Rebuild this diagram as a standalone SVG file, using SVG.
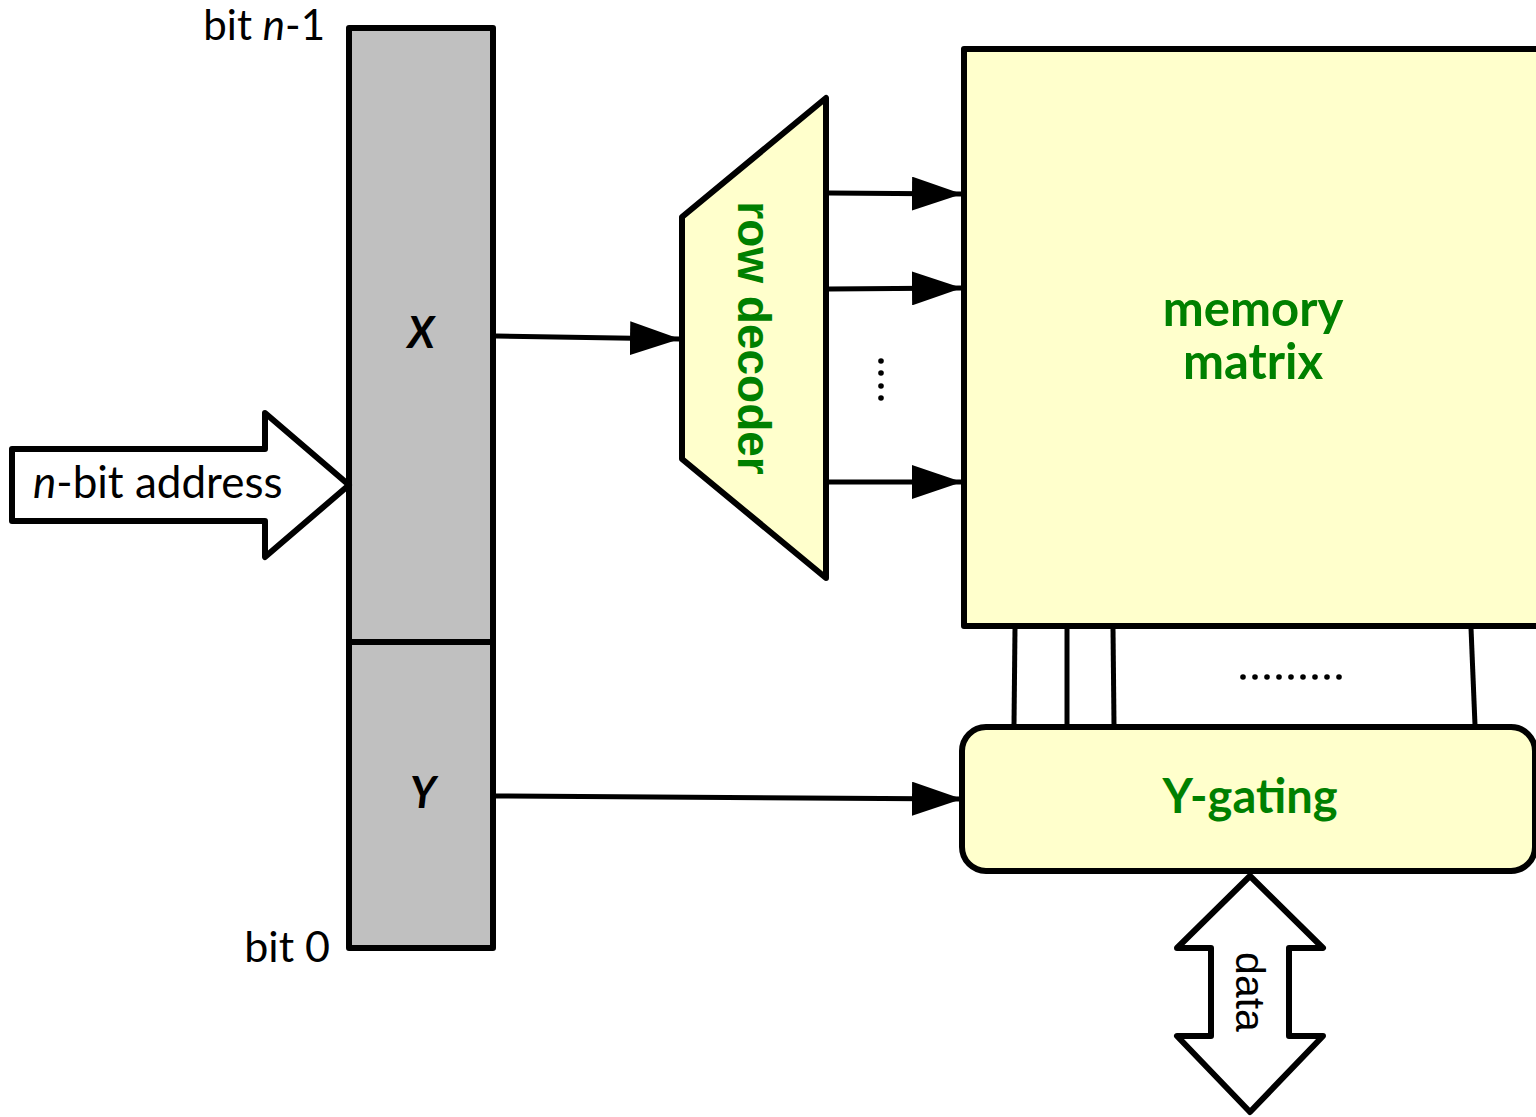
<svg xmlns="http://www.w3.org/2000/svg" width="1536" height="1117" viewBox="0 0 1536 1117">
<style>
.s{stroke:#000;stroke-width:6;stroke-linejoin:round}
.reg{fill:#c0c0c0}
.yel{fill:#ffffcc}
.blk{font-family:"Lato","Open Sans",sans-serif;fill:#000}
.grn{font-family:"Lato","Open Sans",sans-serif;font-weight:bold;fill:#008000}
.ln{stroke:#000;stroke-width:5;fill:none}
</style>
<defs>
<marker id="ah" markerUnits="userSpaceOnUse" markerWidth="52" markerHeight="34" refX="50" refY="17" orient="auto">
<path d="M0,0 L50,17 L0,34 Z" fill="#000"/>
</marker>
</defs>
<g id="address-register">
<rect class="s reg" x="349" y="28" width="144" height="614"/>
<rect class="s reg" x="349" y="642" width="144" height="306"/>
<text class="blk" x="421" y="348" font-size="43" font-weight="bold" font-style="italic" text-anchor="middle">X</text>
<text class="blk" x="423" y="808" font-size="43" font-weight="bold" font-style="italic" text-anchor="middle">Y</text>
</g>
<g id="label-bit-n1"><text class="blk" x="325" y="40" font-size="42" text-anchor="end">bit <tspan font-style="italic">n</tspan>-1</text></g>
<g id="label-bit-0"><text class="blk" x="330" y="962" font-size="43" text-anchor="end">bit 0</text></g>
<g id="address-arrow">
<polygon class="s" fill="#fff" points="12,449 265,449 265,413 349,485 265,557 265,521 12,521"/>
<text class="blk" x="33" y="498" font-size="44"><tspan font-style="italic">n</tspan>-bit address</text>
</g>
<g id="row-decoder">
<polygon class="s yel" points="682,217 826,98 826,578 682,459"/>
<text class="grn" transform="translate(738,338) rotate(90)" font-size="46" text-anchor="middle" style="font-family:'Liberation Sans',Arial,sans-serif">row decoder</text>
</g>
<g id="memory-matrix">
<rect class="s yel" x="964" y="49" width="580" height="577"/>
<text class="grn" x="1253" y="326" font-size="49" text-anchor="middle">memory</text>
<text class="grn" x="1253" y="379" font-size="49" text-anchor="middle">matrix</text>
</g>
<g id="y-gating">
<rect class="s yel" x="962" y="727" width="573" height="144" rx="24"/>
<text class="grn" x="1250" y="813" font-size="47" text-anchor="middle">Y-gating</text>
</g>
<g id="data-arrow">
<polygon class="s" fill="#fff" points="1250,876 1323,948 1289,948 1289,1036 1323,1036 1250,1112 1177,1036 1211,1036 1211,948 1177,948"/>
<text transform="translate(1236,992) rotate(90)" font-size="41" text-anchor="middle" style="font-family:'Liberation Sans',Arial,sans-serif" fill="#000">data</text>
</g>
<g id="connectors">
<line class="ln" x1="496" y1="336" x2="680" y2="339" marker-end="url(#ah)"/>
<line class="ln" x1="496" y1="796" x2="962" y2="799" marker-end="url(#ah)"/>
<line class="ln" x1="829" y1="193" x2="962" y2="194" marker-end="url(#ah)"/>
<line class="ln" x1="829" y1="289" x2="962" y2="288" marker-end="url(#ah)"/>
<line class="ln" x1="829" y1="482" x2="962" y2="482" marker-end="url(#ah)"/>
<line class="ln" x1="1015" y1="628" x2="1014" y2="725"/>
<line class="ln" x1="1067" y1="628" x2="1067" y2="725"/>
<line class="ln" x1="1113" y1="628" x2="1114" y2="725"/>
<line class="ln" x1="1471" y1="628" x2="1475" y2="725"/>
<g fill="#000">
<circle cx="881" cy="361" r="2.8"/><circle cx="881" cy="373" r="2.8"/><circle cx="881" cy="386" r="2.8"/><circle cx="881" cy="398" r="2.8"/>
<circle cx="1243" cy="677" r="2.8"/><circle cx="1255" cy="677" r="2.8"/><circle cx="1267" cy="677" r="2.8"/><circle cx="1279" cy="677" r="2.8"/><circle cx="1291" cy="677" r="2.8"/><circle cx="1303" cy="677" r="2.8"/><circle cx="1315" cy="677" r="2.8"/><circle cx="1327" cy="677" r="2.8"/><circle cx="1339" cy="677" r="2.8"/>
</g>
</g>
</svg>
